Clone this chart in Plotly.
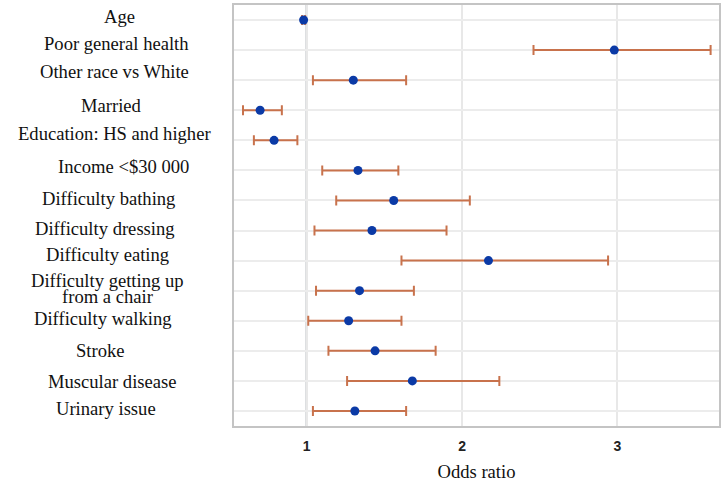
import plotly.graph_objects as go

labels = ["Age", "Poor general health", "Other race vs White", "Married",
          "Education: HS and higher", "Income <$30 000", "Difficulty bathing",
          "Difficulty dressing", "Difficulty eating",
          "Difficulty getting up<br>from a chair", "Difficulty walking",
          "Stroke", "Muscular disease", "Urinary issue"]
odds = [0.98, 2.98, 1.30, 0.70, 0.79, 1.33, 1.56, 1.42, 2.17, 1.34, 1.27, 1.44, 1.68, 1.31]
ci_low = [0.97, 2.46, 1.04, 0.59, 0.66, 1.10, 1.19, 1.05, 1.61, 1.06, 1.01, 1.14, 1.26, 1.04]
ci_high = [0.99, 3.60, 1.64, 0.84, 0.94, 1.59, 2.05, 1.90, 2.94, 1.69, 1.61, 1.83, 2.24, 1.64]
x_ticks = [1, 2, 3]

# label placement (pixel centre x, pixel shift up) to mimic the hand-placed labels
label_cx = [119, 116, 114, 111, 114, 123, 108, 104, 107, 107, 102, 100, 112, 105]
label_up = [4, 7, 9, 5, 7, 4, 2, 2, 6, 2, 2, 0, -1, 2]

rows = list(range(len(labels)))
plus = [h - o for h, o in zip(ci_high, odds)]
minus = [o - l for o, l in zip(odds, ci_low)]

fig = go.Figure()
fig.add_trace(go.Scatter(
    x=odds, y=rows, mode="markers",
    marker=dict(color="#0b3aa6", size=9),
    error_x=dict(type="data", symmetric=False, array=plus, arrayminus=minus,
                 color="#c8724c", thickness=2, width=5),
    showlegend=False,
))

fig.add_shape(type="line", x0=1, x1=1, y0=0, y1=1, xref="x", yref="paper",
              line=dict(color="#c2c5c9", width=2.5), layer="between")

left, width = 234, 487
serif = "Liberation Serif, Times New Roman, serif"
for i, lab in enumerate(labels):
    xp = (label_cx[i] - left) / width
    parts = lab.split("<br>")
    if len(parts) == 1:
        fig.add_annotation(x=xp, y=i, xref="paper", yref="y", text=lab, showarrow=False,
                           xanchor="center", yshift=label_up[i],
                           font=dict(family=serif, size=18.6, color="#111"))
    else:
        for k, p in enumerate(parts):
            fig.add_annotation(x=xp, y=i, xref="paper", yref="y", text=p, showarrow=False,
                               xanchor="center", yshift=label_up[i] + 8 - 16 * k,
                               font=dict(family=serif, size=18.6, color="#111"))

fig.update_layout(
    width=724, height=482,
    margin=dict(l=234, r=3, t=3, b=52),
    plot_bgcolor="white", paper_bgcolor="white",
    xaxis=dict(range=[0.532, 3.654], tickvals=x_ticks,
               ticktext=["<b>%d</b>" % t for t in x_ticks],
               showgrid=True, gridcolor="#e8e8e8",
               gridwidth=1.5, zeroline=False, showline=True, mirror=True,
               linecolor="#c4c4c4", linewidth=1.5, ticks="outside", ticklen=6,
               tickcolor="rgba(0,0,0,0)",
               tickfont=dict(family="Liberation Sans, Arial", size=14, color="#222"),
               title=dict(text="Odds ratio", standoff=12,
                          font=dict(family=serif, size=18.6, color="#111"))),
    yaxis=dict(range=[len(labels) - 0.5, -0.5], tickvals=rows, showticklabels=False,
               showgrid=True, gridcolor="#ececec", gridwidth=1.5, zeroline=False,
               showline=True, mirror=True, linecolor="#c4c4c4", linewidth=1.5),
)

fig.write_html("out.html", config={"displayModeBar": False},
               post_script="document.body.style.margin='0';")
